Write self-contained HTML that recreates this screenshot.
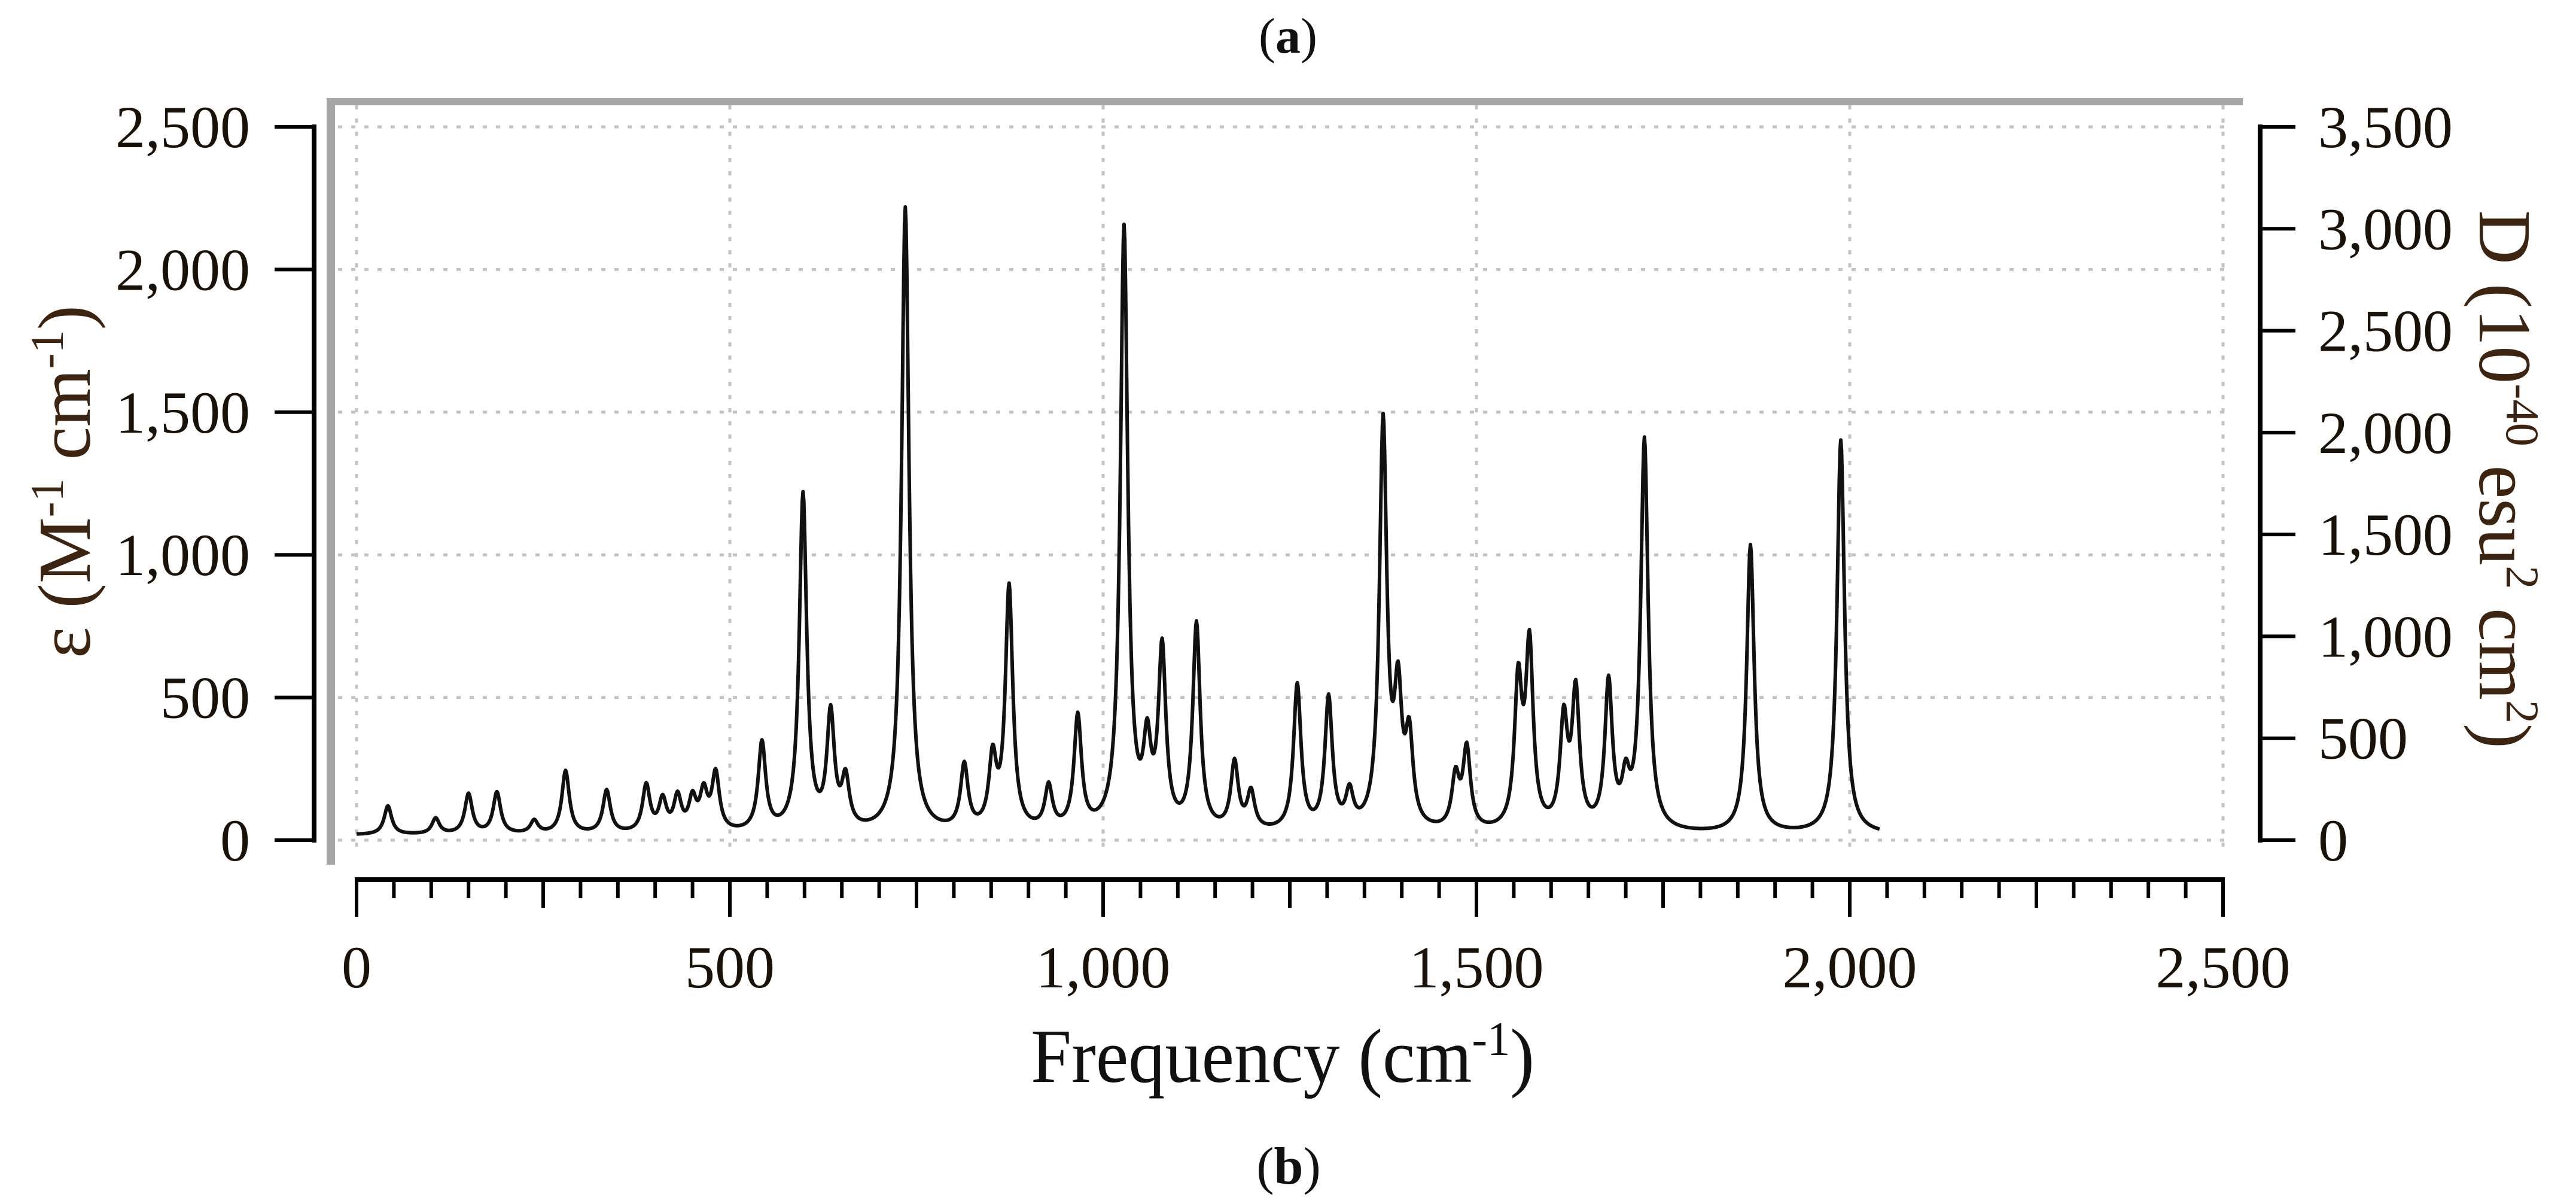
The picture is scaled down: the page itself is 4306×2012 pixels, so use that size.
<!DOCTYPE html>
<html><head><meta charset="utf-8"><style>
html,body{margin:0;padding:0;background:#fff;}
svg{display:block;}
text{font-family:"Liberation Serif",serif;}
</style></head>
<body>
<svg id="chart" width="4306" height="2012" viewBox="0 0 4306 2012" xmlns="http://www.w3.org/2000/svg">
<text x="2153" y="88" font-size="84" text-anchor="middle" fill="#111">(<tspan font-weight="bold">a</tspan>)</text>
<g id="grid"></g>
<rect x="546" y="164" width="3203" height="12" fill="#a6a6a6"/>
<rect x="546" y="164" width="14" height="1281" fill="#a6a6a6"/>
<g id="axes"></g>
<path id="spectrum" fill="none" stroke="#111" stroke-width="6" stroke-linejoin="round"/>
<text x="2144" y="1808" font-size="128" text-anchor="middle" fill="#111" textLength="842" lengthAdjust="spacingAndGlyphs">Frequency (cm<tspan dy="-45" font-size="80">-1</tspan><tspan dy="45">)</tspan></text>
<text transform="translate(150,805) rotate(-90)" font-size="125" text-anchor="middle" fill="#3d2410" textLength="590" lengthAdjust="spacingAndGlyphs">ε (M<tspan dy="-45" font-size="78">-1</tspan><tspan dy="45"> cm</tspan><tspan dy="-45" font-size="78">-1</tspan><tspan dy="45">)</tspan></text>
<text transform="translate(4145,801) rotate(90)" font-size="125" text-anchor="middle" fill="#3d2410" textLength="900" lengthAdjust="spacingAndGlyphs">D (10<tspan dy="-45" font-size="78">-40</tspan><tspan dy="45"> esu</tspan><tspan dy="-45" font-size="78">2</tspan><tspan dy="45"> cm</tspan><tspan dy="-45" font-size="78">2</tspan><tspan dy="45">)</tspan></text>
<text x="2154" y="1978" font-size="88" text-anchor="middle" fill="#111">(<tspan font-weight="bold">b</tspan>)</text>
</svg>
<script>
const peakFreqs = [42,106,150,188,238,280,335,388,410,430,450,465,481,543,598,635,655,735,814,852,874,927,966,1028,1059,1079,1125,1176,1198,1260,1302,1330,1375,1395,1410,1472,1487,1556,1571,1617,1633,1677,1700,1725,1867,1988];
const peakHeights = [100,55,140,145,45,220,150,165,110,120,110,130,200,310,1180,400,170,2190,225,240,850,150,395,2110,270,620,720,235,130,510,460,120,1420,440,300,180,280,500,630,370,470,510,150,1370,1010,1380];
const xTicks = [0,500,1000,1500,2000,2500];
const xTickLabels = ["0","500","1,000","1,500","2,000","2,500"];
const yLeftTicks = [0,500,1000,1500,2000,2500];
const yLeftLabels = ["0","500","1,000","1,500","2,000","2,500"];
const yRightTicks = [0,500,1000,1500,2000,2500,3000,3500];
const yRightLabels = ["0","500","1,000","1,500","2,000","2,500","3,000","3,500"];
const fMin = 0, fMax = 2040, baseline = 18, hwhm = 6;

const NS = "http://www.w3.org/2000/svg";
const X0 = 596, X1 = 3716, Y0 = 1404, Y1 = 212;
const xS = f => X0 + (f/2500)*(X1-X0);
const yL = v => Y0 - (v/2500)*(Y0-Y1);
const yR = v => Y0 - (v/3500)*(Y0-Y1);
function mk(tag, attrs, parent){const e=document.createElementNS(NS,tag);for(const k in attrs)e.setAttribute(k,attrs[k]);parent.appendChild(e);return e;}
const grid = document.getElementById('grid');
const axes = document.getElementById('axes');

xTicks.forEach((t,i)=>{
  const l = mk('line',{x1:xS(t),x2:xS(t),y1:176,y2:1420,stroke:'#c4c4c4','stroke-width':5,'stroke-dasharray':'7 15'},grid);
  
  
});
yLeftTicks.forEach(t=>{
  const l = mk('line',{x1:565,x2:3725,y1:yL(t),y2:yL(t),stroke:'#c4c4c4','stroke-width':5,'stroke-dasharray':'7 15'},grid);
  
  
});

let a = mk('line',{x1:525,x2:525,y1:Y1-4,y2:Y0+4,stroke:'#000','stroke-width':8},axes);


yLeftTicks.forEach((t,i)=>{
  const tk = mk('line',{x1:459,x2:525,y1:yL(t),y2:yL(t),stroke:'#000','stroke-width':6},axes);
  
  
  const tx = mk('text',{x:418,y:yL(t)+34,'font-size':100,'text-anchor':'end',fill:'#1a1208'},axes);
  tx.textContent = yLeftLabels[i];
  
  
});
a = mk('line',{x1:3778,x2:3778,y1:Y1-4,y2:Y0+4,stroke:'#000','stroke-width':8},axes);


yRightTicks.forEach((t,i)=>{
  const tk = mk('line',{x1:3778,x2:3837,y1:yR(t),y2:yR(t),stroke:'#000','stroke-width':6},axes);
  
  
  const tx = mk('text',{x:3875,y:yR(t)+34,'font-size':100,'text-anchor':'start',fill:'#1a1208'},axes);
  tx.textContent = yRightLabels[i];
  
  
});
a = mk('line',{x1:X0-3,x2:X1+3,y1:1470,y2:1470,stroke:'#000','stroke-width':8},axes);


for(let f=0; f<=2500; f+=50){
  const len = f%500===0 ? 62 : (f%250===0 ? 47 : 31);
  const tk = mk('line',{x1:xS(f),x2:xS(f),y1:1470,y2:1470+len,stroke:'#000','stroke-width':6},axes);
  
  
}
xTicks.forEach((t,i)=>{
  const tx = mk('text',{x:xS(t),y:1650,'font-size':100,'text-anchor':'middle',fill:'#1a1208'},axes);
  tx.textContent = xTickLabels[i];
  
  
});

let d = '';
for(let f=fMin; f<=fMax; f+=1){
  let v = baseline;
  for(let k=0;k<peakFreqs.length;k++){
    const u = (f-peakFreqs[k])/hwhm;
    v += peakHeights[k]/(1+u*u);
  }
  d += (f===fMin?'M':'L') + xS(f).toFixed(1) + ',' + yL(v).toFixed(1);
}
document.getElementById('spectrum').setAttribute('d', d);
</script>
</body></html>
